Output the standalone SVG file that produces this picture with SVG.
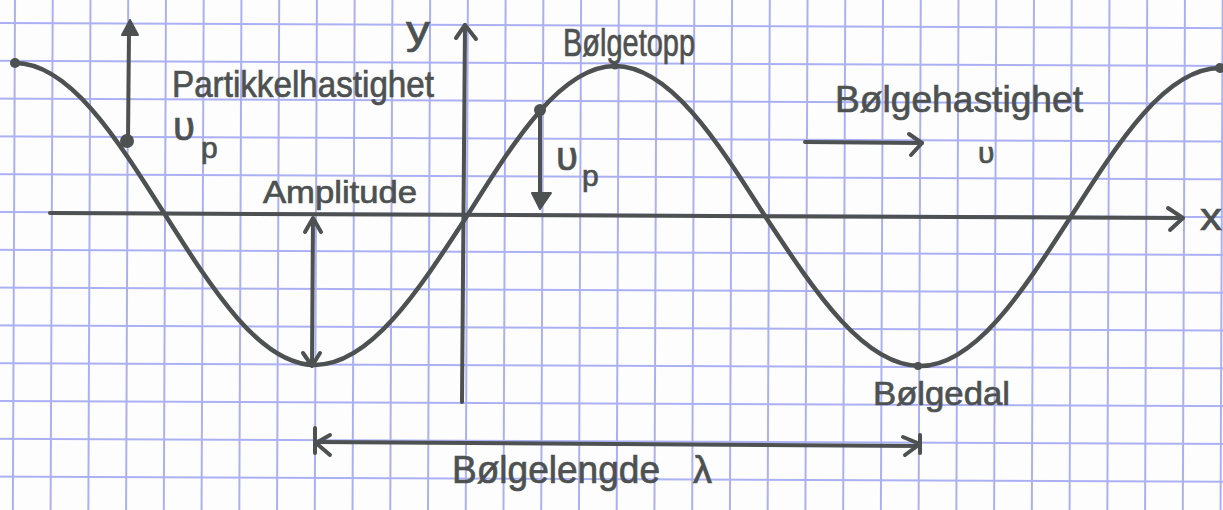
<svg xmlns="http://www.w3.org/2000/svg" width="1223" height="510" viewBox="0 0 1223 510">
<style>
.ink{stroke:#4d5151;stroke-width:4;fill:none;stroke-linecap:round;stroke-linejoin:round}
.curve{stroke:#4d5151;stroke-width:4.5;fill:none;stroke-linecap:round}
.dot{fill:#4d5151}
.lbl{font-family:"Liberation Sans","DejaVu Sans",sans-serif;fill:#4d5151;stroke:#4d5151;stroke-width:0.7}
</style>
<defs>
<pattern id="grid" patternUnits="userSpaceOnUse" x="14" y="22" width="37.74" height="37.8" patternTransform="rotate(0.24)">
<path d="M0 1 H37.74 M1 0 V37.8" stroke="#abb0f3" stroke-width="2" fill="none"/>
</pattern>
</defs>
<rect width="1223" height="510" fill="#fdfdfd"/>
<rect x="-20" y="-20" width="1263" height="550" fill="url(#grid)"/>

<g id="axes">
<path class="ink" d="M50 213 L1183 218"/>
<path class="ink" d="M1168 208 L1183 218 L1170 230"/>
<path class="ink" d="M462 402 L465 25"/>
<path class="ink" d="M456 38 L465 25 L476 39"/>
</g>

<g id="wave">
<path class="curve" d="M15 63 C69 63 115.4 136.2 164 213 C213.2 290.8 260.3 365 315 365 C370 365 417.4 292.3 467 216 C515.2 139.2 561.4 66 615 66 C669.3 66 716.1 139.2 765 216 C815.5 292.8 863.9 366 920 366 C974.3 366 1021.1 293.8 1070 218 C1118.9 141.2 1165.7 68 1220 68"/>
<circle class="dot" cx="15" cy="63" r="5"/>
<circle class="dot" cx="1220" cy="68" r="5"/>
<circle class="dot" cx="615" cy="66" r="3.5"/>
<circle class="dot" cx="918" cy="366" r="4"/>
</g>

<g id="connectors">
<g id="particle-velocity-up">
<circle class="dot" cx="127" cy="141" r="7"/>
<path class="ink" d="M128 141 L129 32"/>
<path class="dot" d="M130 20 L138 35 L122 35 Z" stroke="#4d5151" stroke-width="2" stroke-linejoin="round"/>
</g>
<g id="particle-velocity-down">
<circle class="dot" cx="540" cy="110" r="6"/>
<path class="ink" d="M540 110 L540 196"/>
<path class="dot" d="M540 209 L551 193 L532 193 Z" stroke="#4d5151" stroke-width="2" stroke-linejoin="round"/>
</g>
<g id="wave-velocity">
<path class="ink" d="M805 142 L922 143"/>
<path class="ink" d="M909 134 L922 143 L911 155"/>
</g>
<g id="amplitude-arrow">
<path class="ink" d="M313 219 L312 365"/>
<path class="ink" d="M305 232 L313 218 L321 232"/>
<path class="ink" d="M303 353 L312 366 L320 353"/>
</g>
<g id="wavelength-arrow">
<path class="ink" d="M315 442 L920 446"/>
<path class="ink" d="M330 435 L316 443 L330 455"/>
<path class="ink" d="M315 428 L315 453"/>
<path class="ink" d="M903 437 L920 444 L905 455"/>
<path class="ink" d="M920 435 L920 453"/>
</g>
</g>

<g id="label-y"><text class="lbl" x="406" y="44" font-size="40" textLength="24" lengthAdjust="spacingAndGlyphs">y</text></g>
<g id="label-x"><text class="lbl" x="1200" y="230" font-size="38" textLength="22" lengthAdjust="spacingAndGlyphs">x</text></g>
<g id="label-partikkelhastighet"><text class="lbl" x="172" y="97" font-size="36" textLength="262" lengthAdjust="spacingAndGlyphs">Partikkelhastighet</text></g>
<g id="label-vp1"><text class="lbl" x="173" y="140" font-size="40">υ<tspan x="201" y="158" font-size="30">p</tspan></text></g>
<g id="label-amplitude"><text class="lbl" x="263" y="203" font-size="32" textLength="154" lengthAdjust="spacingAndGlyphs">Amplitude</text></g>
<g id="label-bolgetopp"><text class="lbl" x="563" y="56" font-size="38" textLength="132" lengthAdjust="spacingAndGlyphs">Bølgetopp</text></g>
<g id="label-vp2"><text class="lbl" x="556" y="170" font-size="40">υ<tspan x="582" y="186" font-size="30">p</tspan></text></g>
<g id="label-bolgehastighet"><text class="lbl" x="835" y="112" font-size="36" textLength="248" lengthAdjust="spacingAndGlyphs">Bølgehastighet</text></g>
<g id="label-v"><text class="lbl" x="978" y="163" font-size="30">υ</text></g>
<g id="label-bolgedal"><text class="lbl" x="873" y="405" font-size="34" textLength="137" lengthAdjust="spacingAndGlyphs">Bølgedal</text></g>
<g id="label-bolgelengde"><text class="lbl" x="452" y="483" font-size="38"><tspan textLength="208" lengthAdjust="spacingAndGlyphs">Bølgelengde</tspan> <tspan x="693" font-size="38">λ</tspan></text></g>
</svg>
